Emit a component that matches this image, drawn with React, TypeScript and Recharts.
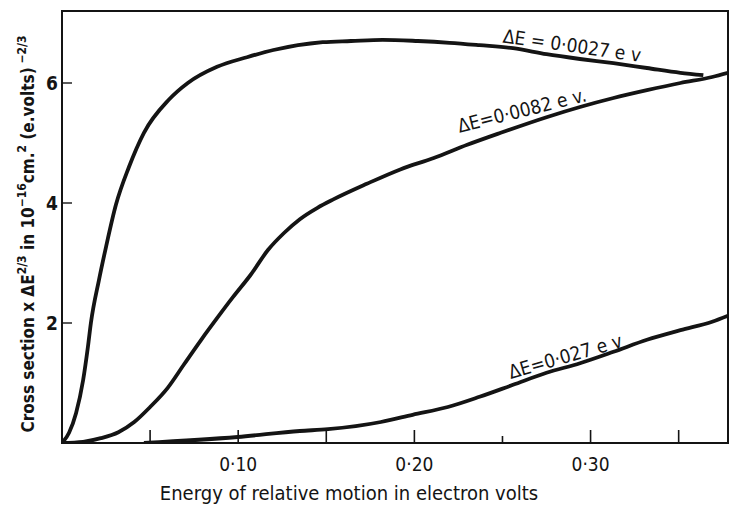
import { LineChart, Line, XAxis, YAxis, ReferenceArea, ReferenceDot } from "recharts";

// Energy of relative motion (eV) and cross section values
const energyA = [0, 0.004, 0.008, 0.012, 0.0147, 0.0164, 0.021, 0.025, 0.0306, 0.038, 0.0465, 0.0606, 0.0714, 0.088, 0.105, 0.12, 0.148, 0.164, 0.182, 0.202, 0.22, 0.237, 0.256, 0.275, 0.294, 0.313, 0.332, 0.351, 0.364];
const sectionA = [0, 0.17, 0.5, 1.05, 1.6, 2.0, 2.72, 3.27, 3.97, 4.6, 5.17, 5.72, 6.0, 6.27, 6.43, 6.55, 6.68, 6.7, 6.72, 6.7, 6.67, 6.63, 6.58, 6.48, 6.4, 6.33, 6.25, 6.17, 6.13];

const energyB = [0, 0.012, 0.022, 0.032, 0.041, 0.05, 0.06, 0.069, 0.079, 0.088, 0.097, 0.107, 0.117, 0.126, 0.135, 0.145, 0.154, 0.173, 0.192, 0.211, 0.23, 0.249, 0.275, 0.294, 0.313, 0.332, 0.351, 0.369, 0.378];
const sectionB = [0, 0.02, 0.08, 0.18, 0.35, 0.6, 0.92, 1.3, 1.72, 2.08, 2.43, 2.8, 3.22, 3.5, 3.73, 3.92, 4.06, 4.32, 4.56, 4.75, 4.97, 5.17, 5.43, 5.6, 5.75, 5.88, 6.0, 6.1, 6.17];

const energyC = [0.0465, 0.0997, 0.135, 0.151, 0.181, 0.199, 0.219, 0.237, 0.256, 0.275, 0.294, 0.313, 0.332, 0.351, 0.369, 0.378];
const sectionC = [0, 0.1, 0.2, 0.23, 0.35, 0.47, 0.6, 0.77, 0.97, 1.17, 1.33, 1.52, 1.72, 1.88, 2.02, 2.12];

const curveLabels = ["ΔE = 0·0027 e v", "ΔE=0·0082 e v.", "ΔE=0·027 e v"];

const energyTicks = [0.05, 0.1, 0.15, 0.2, 0.25, 0.3, 0.35];
const sectionTicks = [2, 4, 6];

const zip = (xs: number[], ys: number[]) => xs.map((x, i) => ({ x, y: ys[i] }));

const ink = "#141414";
const font = "'DejaVu Sans Condensed', 'Liberation Sans Narrow', 'DejaVu Sans', sans-serif";

function EnergyTick(props: any) {
  const { x, y, payload } = props;
  const v: number = payload.value;
  const major = Math.round(v * 100) % 10 === 0;
  const len = Math.round(v * 100) === 25 ? 7 : 13;
  return (
    <g>
      <line x1={x} x2={x} y1={y} y2={y - len} stroke={ink} strokeWidth={1.6} />
      {major && (
        <text x={x} y={y + 21} textAnchor="middle" dominantBaseline="central" fontSize={19} fill={ink} fontFamily={font}>
          {v.toFixed(2).replace(".", "·")}
        </text>
      )}
    </g>
  );
}

function SectionTick(props: any) {
  const { x, y, payload } = props;
  return (
    <g>
      <line x1={x} x2={x + 10} y1={y} y2={y} stroke={ink} strokeWidth={1.4} />
      <text x={x - 4} y={y} textAnchor="end" dominantBaseline="central" fontSize={19} fontWeight="bold" fill={ink} fontFamily={font}>
        {payload.value}
      </text>
    </g>
  );
}

function YTitle() {
  return (
    <text transform="translate(34, 234) rotate(-90)" textAnchor="middle" fontSize={17} fontWeight="bold" fill={ink} fontFamily={font}>
      Cross section  x ΔE
      <tspan dy={-8} fontSize={12}>2/3</tspan>
      <tspan dy={8}> in 10</tspan>
      <tspan dy={-8} fontSize={12}>−16</tspan>
      <tspan dy={8}>cm.</tspan>
      <tspan dy={-8} fontSize={12}>2</tspan>
      <tspan dy={8}> (e.volts)</tspan>
      <tspan dy={-8} fontSize={12}> −2/3</tspan>
    </text>
  );
}

function XTitle() {
  return (
    <text x={349} y={500} textAnchor="middle" fontSize={20} fill={ink} fontFamily={font}>
      Energy of relative motion in electron volts
    </text>
  );
}

const curveLabel = (text: string, angle: number) => (props: any) => {
  const vb = props.viewBox;
  const cx = vb.x + vb.width / 2;
  const cy = vb.y + vb.height / 2;
  return (
    <text
      x={cx}
      y={cy}
      transform={`rotate(${angle}, ${cx}, ${cy})`}
      textAnchor="middle"
      dominantBaseline="central"
      fontSize={19}
      fill={ink}
      fontFamily={font}
    >
      {text}
    </text>
  );
};

export default function App() {
  return (
    <div style={{ width: 729, height: 506, background: "#fff" }}>
      <style>{"body{margin:0;background:#fff}"}</style>
      <LineChart width={729} height={506} margin={{ top: 11, right: 1, left: 0, bottom: 0 }}>
        <XAxis
          type="number"
          dataKey="x"
          domain={[0, 0.378]}
          allowDataOverflow
          ticks={energyTicks}
          interval={0}
          height={63}
          tickSize={0}
          tickMargin={0}
          tickLine={false}
          tick={<EnergyTick />}
          axisLine={{ stroke: ink, strokeWidth: 2 }}
          label={<XTitle />}
        />
        <YAxis
          type="number"
          domain={[0, 7.2]}
          allowDataOverflow
          ticks={sectionTicks}
          interval={0}
          width={62}
          tickSize={0}
          tickMargin={0}
          tickLine={false}
          tick={<SectionTick />}
          axisLine={{ stroke: ink, strokeWidth: 2 }}
          label={<YTitle />}
        />
        <ReferenceArea x1={0} x2={0.378} y1={0} y2={7.2} fill="none" stroke={ink} strokeWidth={2} />
        <Line data={zip(energyA, sectionA)} dataKey="y" type="monotone" stroke={ink} strokeWidth={3.8} dot={false} isAnimationActive={false} />
        <Line data={zip(energyB, sectionB)} dataKey="y" type="monotone" stroke={ink} strokeWidth={3.8} dot={false} isAnimationActive={false} />
        <Line data={zip(energyC, sectionC)} dataKey="y" type="monotone" stroke={ink} strokeWidth={3.8} dot={false} isAnimationActive={false} />
        <ReferenceDot x={0.2895} y={6.63} r={0} fill="none" stroke="none" label={{ content: curveLabel(curveLabels[0], 8) }} />
        <ReferenceDot x={0.261} y={5.55} r={0} fill="none" stroke="none" label={{ content: curveLabel(curveLabels[1], -14) }} />
        <ReferenceDot x={0.2856} y={1.45} r={0} fill="none" stroke="none" label={{ content: curveLabel(curveLabels[2], -16) }} />
      </LineChart>
    </div>
  );
}
